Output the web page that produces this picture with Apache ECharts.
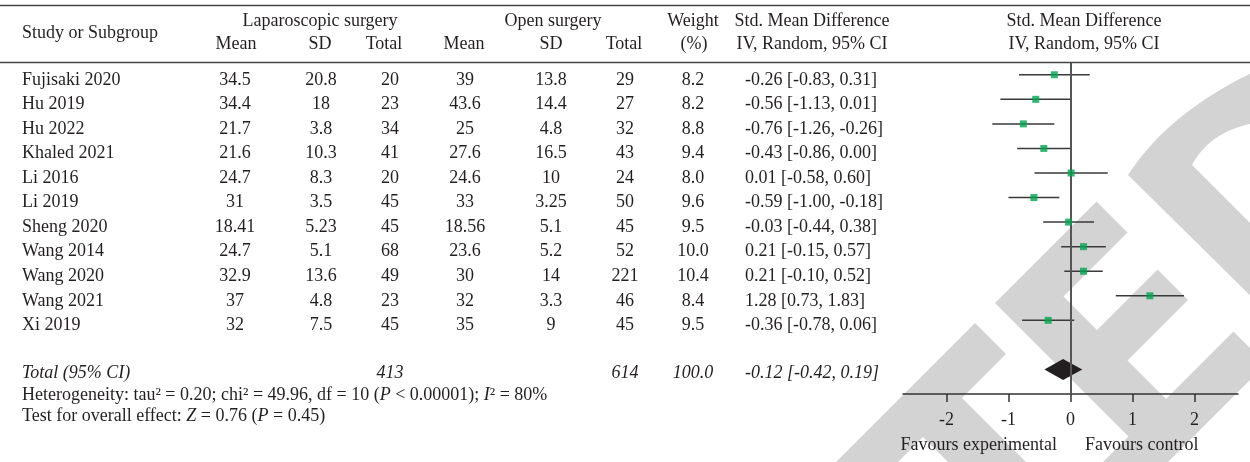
<!DOCTYPE html>
<html>
<head>
<meta charset="utf-8">
<script src="https://cdn.jsdelivr.net/npm/echarts@6/dist/echarts.min.js"></script>
</head>
<body style="margin:0;background:#fff">
<div id="main" style="width:1250px;height:462px"></div>
<script>
// studies, top to bottom
var studies = ['Fujisaki 2020', 'Hu 2019', 'Hu 2022', 'Khaled 2021', 'Li 2016', 'Li 2019',
               'Sheng 2020', 'Wang 2014', 'Wang 2020', 'Wang 2021', 'Xi 2019'];
// laparoscopic surgery
var lapMean  = [34.5, 34.4, 21.7, 21.6, 24.7, 31, 18.41, 24.7, 32.9, 37, 32];
var lapSD    = [20.8, 18, 3.8, 10.3, 8.3, 3.5, 5.23, 5.1, 13.6, 4.8, 7.5];
var lapTotal = [20, 23, 34, 41, 20, 45, 45, 68, 49, 23, 45];
// open surgery
var openMean  = [39, 43.6, 25, 27.6, 24.6, 33, 18.56, 23.6, 30, 32, 35];
var openSD    = [13.8, 14.4, 4.8, 16.5, 10, 3.25, 5.1, 5.2, 14, 3.3, 9];
var openTotal = [29, 27, 32, 43, 24, 50, 45, 52, 221, 46, 45];
// weight and std. mean difference
var weight = [8.2, 8.2, 8.8, 9.4, 8.0, 9.6, 9.5, 10.0, 10.4, 8.4, 9.5];
var smd    = [-0.26, -0.56, -0.76, -0.43, 0.01, -0.59, -0.03, 0.21, 0.21, 1.28, -0.36];
var ciLow  = [-0.83, -1.13, -1.26, -0.86, -0.58, -1.00, -0.44, -0.15, -0.10, 0.73, -0.78];
var ciHigh = [0.31, 0.01, -0.26, 0.00, 0.60, -0.18, 0.38, 0.57, 0.52, 1.83, 0.06];
// pooled
var sumLap = 413, sumOpen = 614, sumWeight = 100.0;
var pooled = [-0.42, -0.12, 0.19];
var tickValues = [-2, -1, 0, 1, 2];

var pooledRow = 12;
var FONT = 'Liberation Serif';
var FS = 18;
var INK = '#231f20';

var chart = echarts.init(document.getElementById('main'));

var ciData = studies.map(function (s, i) { return [ciLow[i], ciHigh[i], i]; });
var pointData = studies.map(function (s, i) { return [smd[i], i]; });

chart.setOption({
    animation: false,
    grid: {left: 903, width: 335, top: 62.5, height: 331.5},
    xAxis: {
        type: 'value', min: -2.7, max: 2.7,
        splitLine: {show: false},
        axisLine: {show: true, onZero: false, lineStyle: {color: '#333', width: 1.5}},
        axisTick: {show: true, length: 8, customValues: tickValues, lineStyle: {color: '#333', width: 1.5}},
        axisLabel: {customValues: tickValues, margin: 17, fontFamily: FONT, fontSize: FS, color: INK}
    },
    yAxis: {type: 'value', min: -0.5, max: 13, inverse: true, show: false},
    series: [
        {
            name: 'ci', type: 'custom', z: 3,
            encode: {x: [0, 1], y: 2},
            data: ciData,
            renderItem: function (params, api) {
                var a = api.coord([api.value(0), api.value(2)]);
                var b = api.coord([api.value(1), api.value(2)]);
                return {type: 'line', shape: {x1: a[0], y1: a[1], x2: b[0], y2: b[1]},
                        style: {stroke: '#3a3a3a', lineWidth: 1.5}};
            },
            markLine: {
                silent: true, symbol: 'none', label: {show: false},
                lineStyle: {color: '#555', width: 2, type: 'solid'},
                data: [{xAxis: 0}]
            }
        },
        {
            name: 'smd', type: 'scatter', z: 5,
            symbol: 'rect', symbolSize: 7,
            itemStyle: {color: '#00a650'},
            data: pointData
        },
        {
            name: 'pooled', type: 'custom', z: 4,
            encode: {x: [0, 1, 2], y: 3},
            data: [[pooled[0], pooled[1], pooled[2], pooledRow]],
            renderItem: function (params, api) {
                var r = api.value(3);
                var l = api.coord([api.value(0), r]);
                var m = api.coord([api.value(1), r]);
                var h = api.coord([api.value(2), r]);
                var half = 10.5;
                return {type: 'polygon',
                        shape: {points: [[l[0], l[1]], [m[0], m[1] - half], [h[0], h[1]], [m[0], m[1] + half]]},
                        style: {fill: INK}};
            }
        }
    ]
});

// ---- table text + watermark ----
function txt(x, y, s, align, italic) {
    return {type: 'text', z: 100, silent: true,
            style: {x: x, y: y, text: s, fill: INK, fontFamily: FONT, fontSize: FS,
                    fontStyle: italic ? 'italic' : 'normal', align: align || 'center', verticalAlign: 'middle'}};
}
function rowY(i) {
    return chart.convertToPixel({gridIndex: 0}, [0, i])[1];
}
// quadratic curve as points
function quad(p0, c, p1, n) {
    var pts = [];
    for (var k = 0; k <= n; k++) {
        var t = k / n, u = 1 - t;
        pts.push([u * u * p0[0] + 2 * u * t * c[0] + t * t * p1[0], u * u * p0[1] + 2 * u * t * c[1] + t * t * p1[1]]);
    }
    return pts;
}

var col = {name: 22, lapMean: 235, lapSD: 321, lapTotal: 390, openMean: 465, openSD: 551,
           openTotal: 625, weight: 693, smd: 745};
var g = [];

// watermark
var wm = '#d3d3d3';
g.push({type: 'polygon', z: -1, silent: true, style: {fill: wm},
        shape: {points: [[975, 323], [1006, 354], [962, 398], [1030, 466], [952, 466], [923, 437], [894, 466], [832, 466]]}});
g.push({type: 'polygon', z: -1, silent: true, style: {fill: wm},
        shape: {points: [[995, 303], [1096.5, 201.5], [1127.5, 232.5], [1063.5, 296.5], [1097, 330], [1157.5, 269.5],
                         [1188, 300], [1127.5, 360.5], [1166, 399], [1233.5, 331.5], [1266, 364], [1164, 466],
                         [1099, 466], [1128.5, 436.5]]}});
var arcPts = quad([1128, 175], [1170, 110], [1262, 68], 16)
    .concat(quad([1262, 122], [1212, 128], [1192, 165], 12))
    .concat([[1262, 235], [1262, 307]]);
g.push({type: 'polygon', z: -1, silent: true, style: {fill: wm}, shape: {points: arcPts}});

// rules
g.push({type: 'line', z: 50, silent: true, shape: {x1: 0, y1: 5.5, x2: 1250, y2: 5.5}, style: {stroke: '#444', lineWidth: 1.5}});
g.push({type: 'line', z: 50, silent: true, shape: {x1: 0, y1: 62.5, x2: 1250, y2: 62.5}, style: {stroke: '#444', lineWidth: 1.5}});

// headers
g.push(txt(col.name, 33, 'Study or Subgroup', 'left'));
g.push(txt(320, 21, 'Laparoscopic surgery'));
g.push(txt(236, 44, 'Mean'));
g.push(txt(320, 44, 'SD'));
g.push(txt(384, 44, 'Total'));
g.push(txt(553, 21, 'Open surgery'));
g.push(txt(464, 44, 'Mean'));
g.push(txt(551, 44, 'SD'));
g.push(txt(624, 44, 'Total'));
g.push(txt(693, 21, 'Weight'));
g.push(txt(694, 44, '(%)'));
g.push(txt(812, 21, 'Std. Mean Difference'));
g.push(txt(812, 44, 'IV, Random, 95% CI'));
g.push(txt(1084, 21, 'Std. Mean Difference'));
g.push(txt(1084, 44, 'IV, Random, 95% CI'));

// study rows
studies.forEach(function (s, i) {
    var y = rowY(i) + 5;
    g.push(txt(col.name, y, s, 'left'));
    g.push(txt(col.lapMean, y, String(lapMean[i])));
    g.push(txt(col.lapSD, y, String(lapSD[i])));
    g.push(txt(col.lapTotal, y, String(lapTotal[i])));
    g.push(txt(col.openMean, y, String(openMean[i])));
    g.push(txt(col.openSD, y, String(openSD[i])));
    g.push(txt(col.openTotal, y, String(openTotal[i])));
    g.push(txt(col.weight, y, weight[i].toFixed(1)));
    g.push(txt(col.smd, y, smd[i].toFixed(2) + ' [' + ciLow[i].toFixed(2) + ', ' + ciHigh[i].toFixed(2) + ']', 'left'));
});

// total row
var ty = rowY(pooledRow) + 4;
g.push(txt(col.name, ty, 'Total (95% CI)', 'left', true));
g.push(txt(col.lapTotal, ty, String(sumLap), 'center', true));
g.push(txt(col.openTotal, ty, String(sumOpen), 'center', true));
g.push(txt(col.weight, ty, sumWeight.toFixed(1), 'center', true));
g.push(txt(col.smd, ty, pooled[1].toFixed(2) + ' [' + pooled[0].toFixed(2) + ', ' + pooled[2].toFixed(2) + ']', 'left', true));

var rich = {i: {fontStyle: 'italic', fontFamily: FONT, fontSize: FS, fill: INK}};
var het = txt(col.name, 395, 'Heterogeneity: tau\u00b2 = 0.20; chi\u00b2 = 49.96, df = 10 ({i|P} < 0.00001); {i|I}\u00b2 = 80%', 'left');
het.style.rich = rich;
g.push(het);
var test = txt(col.name, 416, 'Test for overall effect: {i|Z} = 0.76 ({i|P} = 0.45)', 'left');
test.style.rich = rich;
g.push(test);

// favours
g.push(txt(1057, 445, 'Favours experimental', 'right'));
g.push(txt(1085, 445, 'Favours control', 'left'));

chart.setOption({graphic: g});
</script>
</body>
</html>
